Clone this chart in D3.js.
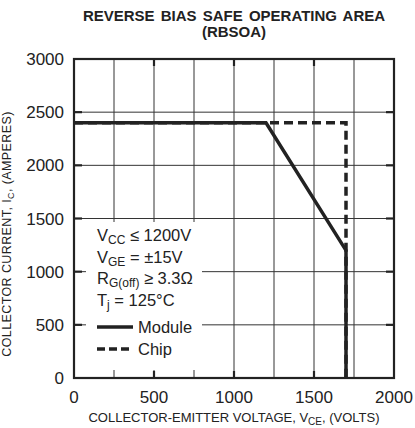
<!DOCTYPE html>
<html>
<head>
<meta charset="utf-8">
<script src="https://cdn.jsdelivr.net/npm/d3@7"></script>
<style>
  body { margin: 0; background: #fff; }
  svg { font-family: "Liberation Sans", Arial, sans-serif; }
</style>
</head>
<body>
<script>
// data
var moduleV = [0, 1200, 1700, 1700];
var moduleI = [2400, 2400, 1200, 0];
var chipV = [0, 1700, 1700];
var chipI = [2400, 2400, 0];
var xTicks = [0, 500, 1000, 1500, 2000];
var yTicks = [0, 500, 1000, 1500, 2000, 2500, 3000];
var xGrid = [250, 500, 750, 1000, 1250, 1500, 1750];
var legendText = ["V|CC| ≤ 1200V", "V|GE| = ±15V", "R|G(off)| ≥ 3.3Ω", "T|j| = 125°C"];

var margin = { top: 59, left: 74 },
    width = 320,
    height = 319;

var svg = d3.select("body").append("svg")
    .attr("width", 415)
    .attr("height", 428);

var g = svg.append("g")
    .attr("transform", "translate(" + margin.left + "," + margin.top + ")");

var x = d3.scaleLinear().domain([0, 2000]).range([0, width]);
var y = d3.scaleLinear().domain([0, 3000]).range([height, 0]);

// grid
g.selectAll(".vgrid").data(xGrid).enter().append("line")
    .attr("x1", x).attr("x2", x)
    .attr("y1", 0).attr("y2", height)
    .attr("stroke", "#333").attr("stroke-width", 1);

g.selectAll(".hgrid").data(yTicks.slice(1, -1)).enter().append("line")
    .attr("x1", 0).attr("x2", width)
    .attr("y1", y).attr("y2", y)
    .attr("stroke", "#333").attr("stroke-width", 1);

// legend box covers the grid
g.append("rect")
    .attr("x", 12).attr("y", 163)
    .attr("width", 116).attr("height", 148)
    .attr("fill", "#fff");

// major ticks, inward on all four sides
var xMajor = xTicks.slice(1, -1);
var yMajor = yTicks.slice(1, -1);
g.selectAll(".tb").data(xMajor).enter().append("line")
    .attr("x1", x).attr("x2", x).attr("y1", height).attr("y2", height - 7)
    .attr("stroke", "#222").attr("stroke-width", 2.2);
g.selectAll(".tt").data(xMajor).enter().append("line")
    .attr("x1", x).attr("x2", x).attr("y1", 0).attr("y2", 7)
    .attr("stroke", "#222").attr("stroke-width", 2.2);
g.selectAll(".tl").data(yMajor).enter().append("line")
    .attr("x1", 0).attr("x2", 8).attr("y1", y).attr("y2", y)
    .attr("stroke", "#222").attr("stroke-width", 2.2);
g.selectAll(".tr").data(yMajor).enter().append("line")
    .attr("x1", width - 8).attr("x2", width).attr("y1", y).attr("y2", y)
    .attr("stroke", "#222").attr("stroke-width", 2.2);

// curves
var line = d3.line().x(function (d) { return x(d[0]); }).y(function (d) { return y(d[1]); });

g.append("path")
    .datum(chipV.map(function (v, i) { return [v, chipI[i]]; }))
    .attr("d", line)
    .attr("fill", "none").attr("stroke", "#222").attr("stroke-width", 3.5)
    .attr("stroke-dasharray", "9,5");

g.append("path")
    .datum(moduleV.map(function (v, i) { return [v, moduleI[i]]; }))
    .attr("d", line)
    .attr("fill", "none").attr("stroke", "#222").attr("stroke-width", 3.5);

// frame
g.append("rect")
    .attr("width", width).attr("height", height)
    .attr("fill", "none").attr("stroke", "#222").attr("stroke-width", 2.2);

// tick labels
svg.selectAll(".xl").data(xTicks).enter().append("text")
    .attr("x", function (d) { return margin.left + x(d); })
    .attr("y", 403)
    .attr("text-anchor", "middle")
    .attr("font-size", 17).attr("fill", "#222")
    .text(function (d) { return d; });

svg.selectAll(".yl").data(yTicks).enter().append("text")
    .attr("x", 64)
    .attr("y", function (d) { return margin.top + y(d) + 6; })
    .attr("text-anchor", "end")
    .attr("font-size", 17).attr("fill", "#222")
    .text(function (d) { return d; });

// text with "A|sub|B" subscript markup
function subText(sel, str, subSize) {
    var parts = str.split("|");
    parts.forEach(function (p, i) {
        if (i % 2 === 1) {
            sel.append("tspan").attr("font-size", subSize).attr("dy", 3).text(p);
        } else if (i > 0) {
            sel.append("tspan").attr("dy", -3).text(p);
        } else {
            sel.append("tspan").text(p);
        }
    });
}

// legend
legendText.forEach(function (t, i) {
    var tx = svg.append("text")
        .attr("x", 97).attr("y", 241 + i * 21.5)
        .attr("font-size", 16.5).attr("fill", "#222");
    subText(tx, t, 12);
});

svg.append("line")
    .attr("x1", 97).attr("x2", 133).attr("y1", 327).attr("y2", 327)
    .attr("stroke", "#222").attr("stroke-width", 3.5);
svg.append("text").attr("x", 138).attr("y", 333)
    .attr("font-size", 16.5).attr("fill", "#222").text("Module");

svg.append("line")
    .attr("x1", 97).attr("x2", 133).attr("y1", 349).attr("y2", 349)
    .attr("stroke", "#222").attr("stroke-width", 3.5)
    .attr("stroke-dasharray", "8,4");
svg.append("text").attr("x", 138).attr("y", 355)
    .attr("font-size", 16.5).attr("fill", "#222").text("Chip");

// title
svg.append("text")
    .attr("x", 234).attr("y", 21)
    .attr("text-anchor", "middle")
    .attr("font-size", 15).attr("font-weight", "bold").attr("fill", "#222")
    .attr("word-spacing", 2)
    .text("REVERSE BIAS SAFE OPERATING AREA");
svg.append("text")
    .attr("x", 234).attr("y", 37)
    .attr("text-anchor", "middle")
    .attr("font-size", 15).attr("font-weight", "bold").attr("fill", "#222")
    .text("(RBSOA)");

// axis titles
var xt = svg.append("text")
    .attr("x", 234).attr("y", 422)
    .attr("text-anchor", "middle")
    .attr("font-size", 13).attr("fill", "#222");
subText(xt, "COLLECTOR-EMITTER VOLTAGE, V|CE|, (VOLTS)", 10);

var yt = svg.append("text")
    .attr("transform", "translate(11,234) rotate(-90)")
    .attr("text-anchor", "middle")
    .attr("font-size", 12.5).attr("letter-spacing", 0.4).attr("fill", "#222");
subText(yt, "COLLECTOR CURRENT, I|C|, (AMPERES)", 9);
</script>
</body>
</html>
